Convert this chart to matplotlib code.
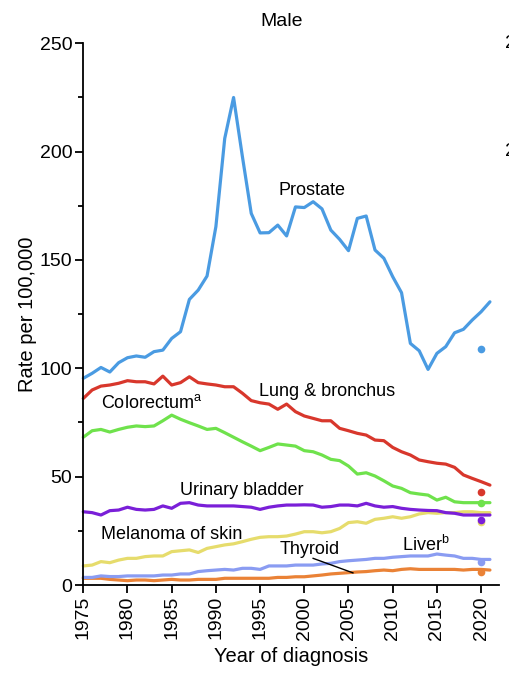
import numpy as np
import matplotlib
matplotlib.use("Agg")
import matplotlib.pyplot as plt

plt.rcParams["font.family"] = ["Liberation Sans", "DejaVu Sans"]
plt.rcParams["mathtext.fontset"] = "custom"
plt.rcParams["mathtext.rm"] = "Liberation Sans"

# Données (taux pour 100 000, hommes)
years = np.arange(1975, 2022)

prostate = [95.4, 97.7, 100.4, 98.3, 102.6, 104.9, 105.7, 105.1, 107.7, 108.4,
            113.8, 116.9, 131.8, 136.1, 142.6, 165.4, 206.1, 225.0, 197.7, 171.5,
            162.5, 162.6, 166.1, 161.1, 174.5, 174.2, 176.9, 173.6, 163.8, 159.5,
            154.3, 169.2, 170.3, 154.6, 150.8, 142.3, 134.9, 111.5, 108.1, 99.5,
            106.9, 110.0, 116.4, 118.0, 122.3, 126.1, 130.7]

lung = [86.1, 90.0, 91.8, 92.3, 93.1, 94.3, 93.8, 93.8, 92.8, 96.4,
        92.3, 93.4, 96.1, 93.4, 92.8, 92.3, 91.5, 91.5, 88.5, 85.1,
        84.1, 83.5, 81.1, 83.5, 80.0, 78.0, 76.9, 75.8, 75.8, 72.3,
        71.2, 70.0, 69.2, 66.9, 66.6, 63.5, 61.5, 60.0, 57.7, 56.9,
        56.2, 55.8, 54.3, 50.8, 49.2, 47.7, 46.1]

colorectum = [68.2, 71.2, 71.8, 70.6, 71.8, 72.8, 73.4, 73.1, 73.4, 75.8,
              78.4, 76.5, 74.9, 73.4, 71.8, 72.3, 70.3, 68.2, 66.1, 64.1,
              62.0, 63.5, 65.1, 64.6, 64.1, 62.0, 61.5, 60.0, 58.0, 57.4,
              54.9, 51.2, 51.8, 50.3, 48.1, 45.7, 44.6, 42.6, 42.0, 41.5,
              39.2, 40.5, 38.4, 38.0, 38.0, 38.0, 38.0]

bladder = [33.8, 33.4, 32.3, 34.3, 34.6, 35.9, 34.9, 34.6, 34.9, 36.5,
           35.4, 37.7, 38.0, 36.9, 36.5, 36.5, 36.5, 36.5, 36.2, 35.9,
           34.9, 35.9, 36.5, 36.9, 36.9, 37.0, 36.9, 35.9, 36.2, 36.9,
           36.9, 36.5, 37.7, 36.5, 35.9, 36.2, 35.4, 34.9, 34.6, 34.4,
           34.3, 33.4, 33.1, 32.3, 32.3, 32.3, 32.3]

melanoma = [8.8, 9.2, 10.8, 10.3, 11.5, 12.3, 12.3, 13.1, 13.4, 13.4,
            15.4, 15.8, 16.2, 15.0, 16.9, 17.7, 18.5, 19.0, 20.0, 21.1,
            22.0, 22.3, 22.3, 22.6, 23.5, 24.6, 24.6, 24.1, 24.6, 26.1,
            28.8, 29.2, 28.5, 30.3, 30.8, 31.5, 30.8, 31.5, 32.8, 33.4,
            33.1, 33.4, 33.4, 33.8, 33.8, 33.4, 33.4]

liver = [3.5, 3.5, 4.2, 3.9, 3.9, 4.2, 4.2, 4.2, 4.2, 4.6,
         4.6, 5.1, 5.1, 6.2, 6.6, 6.9, 7.2, 6.9, 7.7, 7.7,
         7.2, 8.8, 8.8, 8.8, 9.2, 9.2, 9.2, 9.7, 10.0, 10.8,
         11.2, 11.5, 11.8, 12.3, 12.3, 12.8, 13.1, 13.4, 13.4, 13.4,
         14.3, 13.8, 13.4, 12.3, 12.3, 11.8, 11.8]

thyroid = [3.1, 3.1, 3.1, 2.6, 2.3, 2.0, 2.3, 2.3, 2.0, 2.3,
           2.6, 2.3, 2.3, 2.6, 2.6, 2.6, 3.1, 3.1, 3.1, 3.1,
           3.1, 3.1, 3.5, 3.5, 3.8, 3.8, 4.2, 4.6, 5.1, 5.4,
           5.7, 6.0, 6.2, 6.6, 6.9, 6.6, 7.2, 7.5, 7.2, 7.2,
           7.2, 7.2, 7.2, 6.9, 7.2, 7.2, 6.9]

# Points isolés de 2020
dot_year = 2020
dot_values = {"prostate": 109.1, "lung": 43.1, "colorectum": 38.0, "bladder": 30.0,
              "melanoma": 29.2, "liver": 10.8, "thyroid": 6.2}

colors = {"prostate": "#4a9be2", "lung": "#d8372c", "colorectum": "#6fe24c",
          "bladder": "#7a1fd8", "melanoma": "#e6dc6c", "liver": "#8a9cf2",
          "thyroid": "#ea8236"}

series = {"thyroid": thyroid, "liver": liver, "melanoma": melanoma,
          "bladder": bladder, "colorectum": colorectum, "lung": lung,
          "prostate": prostate}

fig = plt.figure(figsize=(5.1, 6.8), dpi=100)
ax = fig.add_axes([0.1633, 0.1397, 0.8147, 0.7966])

for key, vals in series.items():
    ax.plot(years, vals, color=colors[key], lw=2.3, solid_capstyle="round",
            solid_joinstyle="round", clip_on=False)

for key in ["thyroid", "liver", "melanoma", "colorectum", "bladder", "lung", "prostate"]:
    ax.plot(dot_year, dot_values[key], "o", color=colors[key], ms=5.5,
            mec="none", clip_on=False)

# Étiquettes des séries
lab = dict(fontsize=13, va="center", ha="left")
ax.text(1997.05, 182.3, "Prostate", **lab)
ax.text(1994.9, 89.2, "Lung & bronchus", **lab)
ax.text(1977.0, 83.8, "Colorectum$^{\\mathrm{a}}$", **lab)
ax.text(1985.9, 43.5, "Urinary bladder", **lab)
ax.text(1977.0, 23.4, "Melanoma of skin", **lab)
ax.text(1997.2, 16.2, "Thyroid", **lab)
ax.text(2011.1, 18.5, "Liver$^{\\mathrm{b}}$", **lab)
ax.plot([2001.0, 2005.5], [12.3, 5.6], color="black", lw=1.0)

ax.set_xlim(1975, 2022)
ax.set_ylim(0, 250)
ax.set_xticks(np.arange(1975, 2021, 5))
ax.set_yticks(np.arange(0, 251, 50))
ax.set_yticks(np.arange(25, 250, 50), minor=True)
ax.tick_params(axis="x", labelrotation=90, labelsize=14, length=6, width=1.3, pad=2)
ax.tick_params(axis="y", labelsize=14, length=6, width=1.3, pad=2)
ax.tick_params(axis="y", which="minor", length=3.5, width=1.3)

for side in ["top", "right"]:
    ax.spines[side].set_visible(False)
for side in ["left", "bottom"]:
    ax.spines[side].set_linewidth(1.3)

ax.set_xlabel("Year of diagnosis", fontsize=14.5, labelpad=5)
ax.set_ylabel("Rate per 100,000", fontsize=14.5, labelpad=2)
fig.text(282 / 510, 1 - 22 / 680, "Male", fontsize=14, ha="center", va="center")

# Bord du panneau voisin, coupé à droite
for v in [250, 200]:
    yf = 0.1397 + 0.7966 * v / 250
    fig.text(505 / 510, yf, "2", fontsize=14, ha="left", va="center")

fig.savefig("out.png", dpi=100)
